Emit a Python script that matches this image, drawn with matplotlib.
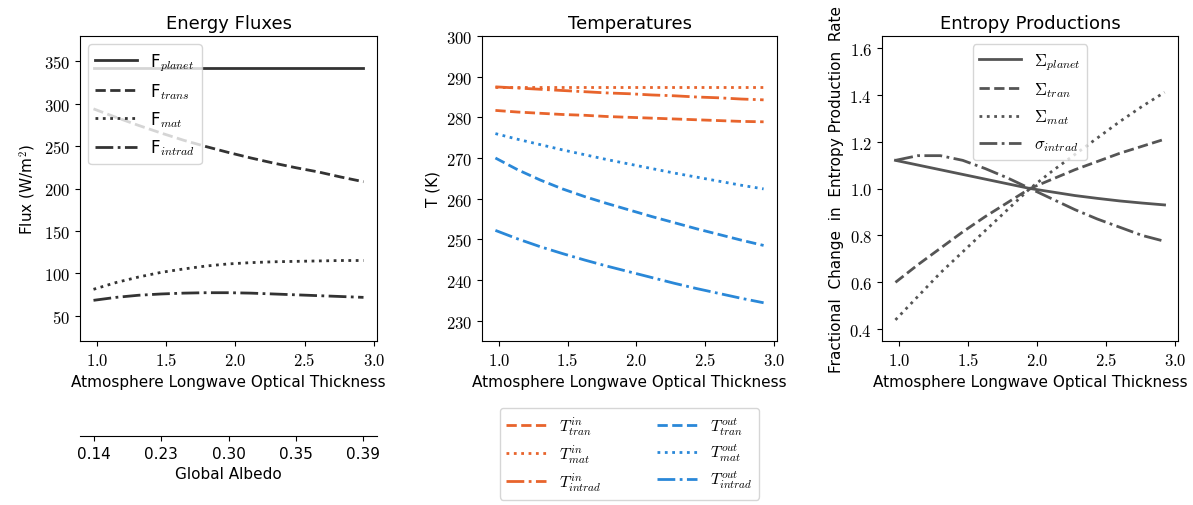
import numpy as np
import matplotlib
matplotlib.use('Agg')
import matplotlib.pyplot as plt
from matplotlib.ticker import FuncFormatter

plt.rcParams['mathtext.fontset'] = 'cm'
plt.rcParams['font.family'] = ['DejaVu Sans']

# optical thickness values
tau = [0.975, 1.1375, 1.3, 1.4625, 1.625, 1.7875, 1.95, 2.1125, 2.275, 2.4375, 2.6, 2.7625, 2.925]

# energy fluxes (W/m^2)
F_planet = [342, 342, 342, 342, 342, 342, 342, 342, 342, 342, 342, 342, 342]
F_trans = [294, 284, 274.5, 265.5, 257, 249.5, 242.5, 236, 230, 224.5, 219.5, 213.5, 208]
F_mat = [81, 89, 95.5, 101, 105, 108.5, 111, 112.5, 113.5, 114, 114.5, 115, 115]
F_intrad = [68, 71.5, 74, 75.5, 76.5, 77, 77, 76.5, 75.5, 74.5, 73.5, 72.5, 71.5]

# temperatures (K)
T_in_tran = [281.7, 281.3, 281.0, 280.7, 280.5, 280.2, 280.0, 279.8, 279.6, 279.4, 279.2, 279.0, 278.9]
T_in_mat = [287.4, 287.4, 287.4, 287.4, 287.4, 287.4, 287.4, 287.4, 287.4, 287.4, 287.4, 287.4, 287.4]
T_in_intrad = [287.5, 287.2, 286.9, 286.6, 286.3, 286.0, 285.8, 285.5, 285.3, 285.0, 284.8, 284.5, 284.3]
T_out_tran = [270.0, 267.1, 264.6, 262.4, 260.5, 258.8, 257.2, 255.6, 254.1, 252.6, 251.2, 249.8, 248.5]
T_out_mat = [276.0, 274.6, 273.3, 272.0, 270.8, 269.6, 268.5, 267.4, 266.3, 265.3, 264.3, 263.3, 262.4]
T_out_intrad = [252.2, 250.1, 248.2, 246.5, 244.9, 243.4, 242.0, 240.6, 239.2, 237.9, 236.7, 235.5, 234.4]

# fractional change in entropy production rate
S_planet = [1.12, 1.10, 1.08, 1.06, 1.04, 1.02, 1.0, 0.985, 0.97, 0.958, 0.947, 0.938, 0.93]
S_tran = [0.60, 0.675, 0.745, 0.815, 0.88, 0.94, 1.0, 1.04, 1.08, 1.115, 1.15, 1.18, 1.21]
S_mat = [0.44, 0.54, 0.64, 0.73, 0.82, 0.91, 1.0, 1.075, 1.145, 1.215, 1.285, 1.35, 1.41]
s_intrad = [1.12, 1.14, 1.14, 1.12, 1.085, 1.045, 1.0, 0.955, 0.91, 0.87, 0.835, 0.80, 0.775]

# albedo axis
albedo_pos = [0.975, 1.4625, 1.95, 2.4375, 2.925]
albedo_labels = ['0.14', '0.23', '0.30', '0.35', '0.39']

orange = '#E8642C'
blue = '#2A88D8'
dark = '#333333'
grey = '#555555'

W, H = 1193, 506
fig = plt.figure(figsize=(W/100, H/100), dpi=100)

def box(l, r, t, b):
    return [l/W, (H-b)/H, (r-l)/W, (b-t)/H]

ax1 = fig.add_axes(box(80, 377, 37, 342))
ax2 = fig.add_axes(box(482, 777, 37, 342))
ax3 = fig.add_axes(box(882, 1178, 37, 342))
axa = fig.add_axes(box(80, 377, 436, 437))

math_fmt1 = FuncFormatter(lambda v, p: r'$%.1f$' % v)
math_fmt0 = FuncFormatter(lambda v, p: r'$%d$' % v)

lw = 2
ax1.plot(tau, F_planet, '-', color=dark, lw=lw, label=r'F$_{planet}$')
ax1.plot(tau, F_trans, '--', color=dark, lw=lw, label=r'F$_{trans}$')
ax1.plot(tau, F_mat, ':', color=dark, lw=lw, label=r'F$_{mat}$')
ax1.plot(tau, F_intrad, '-.', color=dark, lw=lw, label=r'F$_{intrad}$')
ax1.set_ylim(20, 380)
ax1.set_yticks([50, 100, 150, 200, 250, 300, 350])
ax1.set_title('Energy Fluxes', fontsize=13)
ax1.set_ylabel(r'Flux (W/m$^2$)', fontsize=11)
ax1.set_xlabel('Atmosphere Longwave Optical Thickness', fontsize=11)
ax1.legend(loc='upper left', fontsize=12, handlelength=2.5)

ax2.plot(tau, T_in_tran, '--', color=orange, lw=lw, label=r'$T^{in}_{tran}$')
ax2.plot(tau, T_in_mat, ':', color=orange, lw=lw, label=r'$T^{in}_{mat}$')
ax2.plot(tau, T_in_intrad, '-.', color=orange, lw=lw, label=r'$T^{in}_{intrad}$')
ax2.plot(tau, T_out_tran, '--', color=blue, lw=lw, label=r'$T^{out}_{tran}$')
ax2.plot(tau, T_out_mat, ':', color=blue, lw=lw, label=r'$T^{out}_{mat}$')
ax2.plot(tau, T_out_intrad, '-.', color=blue, lw=lw, label=r'$T^{out}_{intrad}$')
ax2.set_ylim(225, 300)
ax2.set_title('Temperatures', fontsize=13)
ax2.set_ylabel('T (K)', fontsize=11)
ax2.set_xlabel('Atmosphere Longwave Optical Thickness', fontsize=11)
ax2.legend(loc='upper center', bbox_to_anchor=(0.5, -0.22), borderaxespad=0,
           ncol=2, fontsize=11.5, labelspacing=0.35, handlelength=2.5, columnspacing=3.5)

ax3.plot(tau, S_planet, '-', color=grey, lw=lw, label=r'$\Sigma_{planet}$')
ax3.plot(tau, S_tran, '--', color=grey, lw=lw, label=r'$\Sigma_{tran}$')
ax3.plot(tau, S_mat, ':', color=grey, lw=lw, label=r'$\Sigma_{mat}$')
ax3.plot(tau, s_intrad, '-.', color=grey, lw=lw, label=r'$\sigma_{intrad}$')
ax3.set_ylim(0.35, 1.65)
ax3.set_yticks([0.4, 0.6, 0.8, 1.0, 1.2, 1.4, 1.6])
ax3.set_title('Entropy Productions', fontsize=13)
ax3.set_ylabel('Fractional  Change  in  Entropy Production  Rate', fontsize=11)
ax3.set_xlabel('Atmosphere Longwave Optical Thickness', fontsize=11)
ax3.legend(loc='upper center', fontsize=12, handlelength=2.5)

for ax in (ax1, ax2, ax3):
    ax.set_xticks([1.0, 1.5, 2.0, 2.5, 3.0])
    ax.xaxis.set_major_formatter(math_fmt1)
    ax.tick_params(labelsize=12)
ax1.yaxis.set_major_formatter(math_fmt0)
ax2.yaxis.set_major_formatter(math_fmt0)
ax3.yaxis.set_major_formatter(math_fmt1)

axa.set_xlim(ax1.get_xlim())
axa.set_yticks([])
for s in ('left', 'right', 'top'):
    axa.spines[s].set_visible(False)
axa.patch.set_visible(False)
axa.set_xticks(albedo_pos)
axa.set_xticklabels(albedo_labels)
axa.tick_params(labelsize=11)
axa.set_xlabel('Global Albedo', fontsize=11)

fig.savefig('out.png', dpi=100)
